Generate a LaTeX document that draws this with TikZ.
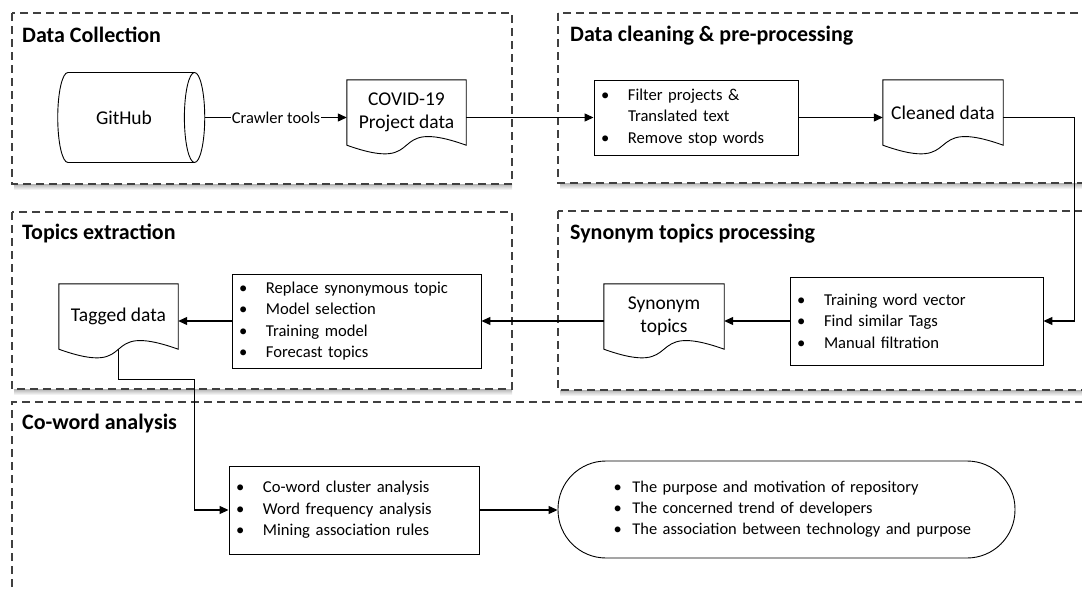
\documentclass[tikz,border=0pt]{standalone}
\usepackage{fontspec}
\setmainfont{Carlito}
\usetikzlibrary{shapes.geometric}
\usetikzlibrary{arrows.meta}
\usetikzlibrary{calc}

\tikzset{
  frame/.style={draw=black!75, line width=1.1pt, dash pattern=on 8pt off 5pt},
  frameshadow/.style={top color=black!30, bottom color=white, draw=none},
  frametitle/.style={anchor=base west, inner sep=0pt, font=\fontsize{22}{26}\selectfont\bfseries},
  doc/.style={minimum width=119pt, minimum height=65pt, inner sep=0pt, align=center, font=\fontsize{19.5}{23}\selectfont},
  listbox/.style={draw, line width=0.9pt, align=left, inner xsep=7pt, inner ysep=0pt, font=\fontsize{16.6}{21.5}\selectfont},
  link/.style={line width=1.2pt, -{Triangle[length=9pt,width=8pt]}},
}
\newcommand{\bitem}[1]{\makebox[27pt][l]{\textbullet}#1}
\newcommand{\docline}[1]{\draw[line width=0.9pt] (#1.north west)--(#1.north east)--(#1.south east) .. controls +(-84,-30) and +(84,30) .. (#1.south west)--cycle;}

\begin{document}
\begin{tikzpicture}[x=1pt, y=-1pt]
\useasboundingbox (0,0) rectangle (1082,589);

\shade[frameshadow] (14,184) rectangle (512,190);
\shade[frameshadow] (560,183) rectangle (1090,189);
\shade[frameshadow] (14,389) rectangle (512,395);
\shade[frameshadow] (560,390) rectangle (1090,396);
\draw[frame] (12,13) rectangle (512,184);
\draw[frame] (558,13) rectangle (1090,183);
\draw[frame] (12,212) rectangle (512,389);
\draw[frame] (558,211) rectangle (1090,390);
\draw[frame] (12,600) -- (12,402) -- (1090,402);

\node[frametitle] (titlecollect) at (22,42) {Data Collection};
\node[frametitle] (titleclean) at (570,41) {Data cleaning \& pre-processing};
\node[frametitle] (titletopics) at (22,239) {Topics extraction};
\node[frametitle] (titlesynonym) at (570,239) {Synonym topics processing};
\node[frametitle] (titlecoword) at (22,429) {Co-word analysis};

\node[cylinder, draw, line width=0.9pt, minimum width=90pt, minimum height=147pt, aspect=1, font=\fontsize{19.5}{23}\selectfont] (github) at (124,117.5) {GitHub};
\node[doc] (covid) at (406.5,112.5) {COVID-19\\Project data};
\docline{covid}
\node[listbox, text width=190pt, minimum height=75pt] (filter) at (696,117.5) {\bitem{Filter projects \&}\\\hspace*{27pt}Translated text\\\bitem{Remove stop words}};
\node[doc, minimum width=120pt] (cleaned) at (943,112.5) {Cleaned data};
\docline{cleaned}
\node[listbox, text width=239pt, minimum height=88pt] (training) at (916.5,321) {\bitem{Training word vector}\\\bitem{Find similar Tags}\\\bitem{Manual filtration}};
\node[doc, minimum width=120pt] (synonym) at (664,316.5) {Synonym\\topics};
\docline{synonym}
\node[listbox, text width=235pt, minimum height=94pt] (replace) at (356.5,321) {\bitem{Replace synonymous topic}\\\bitem{Model selection}\\\bitem{Training model}\\\bitem{Forecast topics}};
\node[doc] (tagged) at (118.5,316.5) {Tagged data};
\docline{tagged}
\node[listbox, text width=236pt, minimum height=88pt] (coword) at (354,510) {\bitem{Co-word cluster analysis}\\\bitem{Word frequency analysis}\\\bitem{Mining association rules}};
\node[draw, line width=0.9pt, rounded corners=48pt, minimum width=457pt, minimum height=97pt, text width=400pt, inner sep=0pt, align=left, font=\fontsize{16.4}{21}\selectfont] (result) at (786.5,509.5) {\hspace*{27pt}\makebox[19pt][l]{\textbullet}The purpose and motivation of repository\\\hspace*{27pt}\makebox[19pt][l]{\textbullet}The concerned trend of developers\\\hspace*{27pt}\makebox[19pt][l]{\textbullet}The association between technology and purpose};

\draw[link] (github.east) -- node[fill=white, inner sep=1pt, font=\fontsize{16.5}{16}\selectfont] {Crawler tools} (github.east -| covid.west);
\draw[link] (covid.east |- filter.west) -- (filter.west);
\draw[link] (filter.east) -- (filter.east -| cleaned.west);
\draw[link] (cleaned.east |- filter.east) -- ++(71,0) |- (training.east);
\draw[link] (training.west) -- (training.west -| synonym.east);
\draw[link] (synonym.west |- replace.east) -- (replace.east);
\draw[link] (replace.west) -- (replace.west -| tagged.east);
\draw[link] (tagged.south) -- ++(0,30) -| ($(coword.west)+(-34,0)$) -- (coword.west);
\draw[link] (coword.east) -- (coword.east -| result.west);
\end{tikzpicture}
\end{document}
